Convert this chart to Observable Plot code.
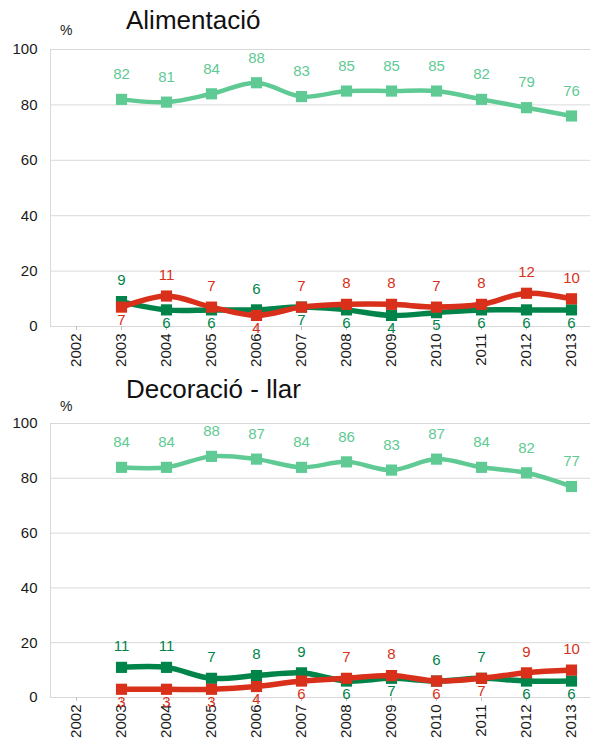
<!DOCTYPE html>
<html><head><meta charset="utf-8">
<script src="https://cdn.jsdelivr.net/npm/d3@7"></script>
<script src="https://cdn.jsdelivr.net/npm/@observablehq/plot@0.6"></script>
<style>
body{margin:0;overflow:hidden;background:#fff;font-family:"Liberation Sans",Arial,sans-serif}
#chart svg{display:block}
</style>
</head><body><div id="chart"></div><script>
// ---- data ----
const years = ["2002","2003","2004","2005","2006","2007","2008","2009","2010","2011","2012","2013"];
const dataYears = ["2003","2004","2005","2006","2007","2008","2009","2010","2011","2012","2013"];
const yTicks = [0, 20, 40, 60, 80, 100];

const alimTitle = "Alimentació";
const alimLight = [82, 81, 84, 88, 83, 85, 85, 85, 82, 79, 76];
const alimDark  = [9, 6, 6, 6, 7, 6, 4, 5, 6, 6, 6];
const alimRed   = [7, 11, 7, 4, 7, 8, 8, 7, 8, 12, 10];
const alimDarkSide = ["above","below","below","above","below","below","below","below","below","below","below"];
const alimRedSide  = ["below","above","above","below","above","above","above","above","above","above","above"];

const decoTitle = "Decoració - llar";
const decoLight = [84, 84, 88, 87, 84, 86, 83, 87, 84, 82, 77];
const decoDark  = [11, 11, 7, 8, 9, 6, 7, 6, 7, 6, 6];
const decoRed   = [3, 3, 3, 4, 6, 7, 8, 6, 7, 9, 10];
const decoDarkSide = ["above","above","above","above","above","below","below","above","above","below","below"];
const decoRedSide  = ["below","below","below","below","below","above","above","below","below","above","above"];

const unitLabel = "%";

// ---- styles ----
const COL = {light: "#5fca94", dark: "#00844a", red: "#d8301a"};
const FONT = "'Liberation Sans', Arial, sans-serif";

function panel({title, light, dark, red, darkSide, redSide, height, marginTop, marginBottom, titleY, pctY}) {
  const mk = (vals, sides) => vals.map((v, i) => ({year: dataYears[i], value: v, side: sides ? sides[i] : "above"}));
  const series = [
    {rows: mk(light), color: COL.light, sw: 4.5, up: -25, down: 13},
    {rows: mk(dark, darkSide), color: COL.dark, sw: 5.5, up: -21, down: 13},
    {rows: mk(red, redSide), color: COL.red, sw: 5.5, up: -21, down: 13}
  ];
  const marks = [
    Plot.gridY(yTicks, {stroke: "#d9d9d9", strokeOpacity: 1}),
    (index, scales, values, dims) => {
      const l = d3.create("svg:line")
        .attr("x1", dims.marginLeft + 0.5).attr("x2", dims.marginLeft + 0.5)
        .attr("y1", scales.y(100)).attr("y2", scales.y(0))
        .attr("stroke", "#d9d9d9");
      return l.node();
    },
    Plot.axisX({tickSize: 4, stroke: "#bfbfbf", tickFormat: () => ""}),
    Plot.axisX({tickSize: 0, tickPadding: 7, tickRotate: -90, fontSize: 15, fill: "#1a1a1a"}),
    Plot.axisY(yTicks, {tickSize: 0, tickPadding: 13, fontSize: 15, fill: "#1a1a1a"})
  ];
  for (const s of series) {
    marks.push(Plot.line(s.rows, {x: "year", y: "value", stroke: s.color, strokeWidth: s.sw, curve: "catmull-rom"}));
    marks.push(Plot.dot(s.rows, {x: "year", y: "value", symbol: "square", r: 6.3, fill: s.color}));
  }
  for (const s of series) {
    marks.push(Plot.text(s.rows.filter(d => d.side === "above"), {x: "year", y: "value", text: d => String(d.value), dy: s.up, fill: s.color, fontSize: 15}));
    marks.push(Plot.text(s.rows.filter(d => d.side === "below"), {x: "year", y: "value", text: d => String(d.value), dy: s.down, fill: s.color, fontSize: 15}));
  }
  const svg = Plot.plot({
    width: 590, height, marginLeft: 50, marginRight: 0, marginTop, marginBottom,
    style: {fontFamily: FONT, fontSize: "15px", background: "#fff", color: "#1a1a1a"},
    x: {type: "point", domain: years, range: [50, 597], padding: 0.5, label: null},
    y: {domain: [0, 100], label: null},
    marks
  });
  const sel = d3.select(svg);
  sel.append("text").attr("x", 126).attr("y", titleY).attr("text-anchor", "start")
    .attr("font-size", 26).attr("fill", "#111").text(title);
  sel.append("text").attr("x", 60).attr("y", pctY).attr("text-anchor", "start")
    .attr("font-size", 14).attr("fill", "#1a1a1a").text(unitLabel);
  return svg;
}

const root = document.getElementById("chart");
root.append(panel({title: alimTitle, light: alimLight, dark: alimDark, red: alimRed, darkSide: alimDarkSide, redSide: alimRedSide,
  height: 372, marginTop: 49, marginBottom: 46, titleY: 29, pctY: 35}));
root.append(panel({title: decoTitle, light: decoLight, dark: decoDark, red: decoRed, darkSide: decoDarkSide, redSide: decoRedSide,
  height: 367, marginTop: 51, marginBottom: 42, titleY: 26, pctY: 39}));
</script></body></html>
